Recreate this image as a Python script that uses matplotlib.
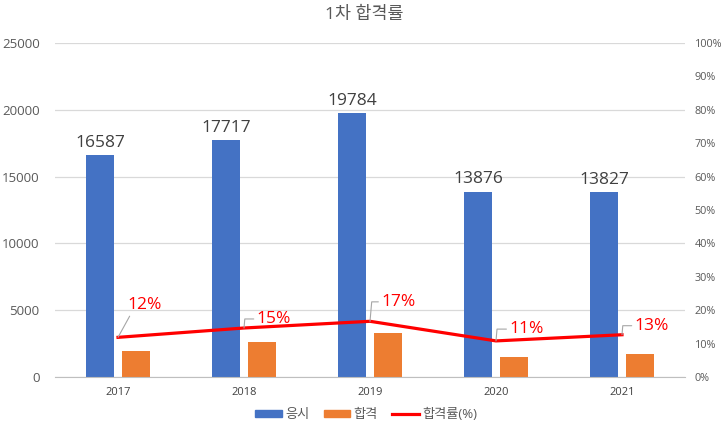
import matplotlib
matplotlib.use("Agg")
import matplotlib.pyplot as plt
from matplotlib.patches import Patch
from matplotlib.lines import Line2D
import numpy as np

plt.rcParams['font.family'] = ['Open Sans', 'Noto Sans CJK KR', 'DejaVu Sans']

years = ['2017', '2018', '2019', '2020', '2021']
applied = [16587, 17717, 19784, 13876, 13827]   # 응시
passed = [1970, 2600, 3300, 1500, 1750]         # 합격
left_ticks = [0, 5000, 10000, 15000, 20000, 25000]
right_ticks = [0, 10, 20, 30, 40, 50, 60, 70, 80, 90, 100]

BLUE = '#4472C4'
ORANGE = '#ED7D31'
GRAY = '#595959'

rate = [p / a * 100 for p, a in zip(passed, applied)]
x = np.arange(len(years))

fig = plt.figure(figsize=(7.25, 4.33), dpi=100)
ax = fig.add_axes([0.0759, 0.1293, 0.8689, 0.7714])
ax2 = ax.twinx()

w = 0.222
ax.bar(x - 0.143, applied, w, color=BLUE, zorder=2)
ax.bar(x + 0.143, passed, w, color=ORANGE, zorder=2)

for xi, v in zip(x, applied):
    ax.annotate(str(v), (xi - 0.143, v), xytext=(0, 3), textcoords='offset points',
                ha='center', va='bottom', fontsize=12.5, color='#404040')

ax.set_xlim(-0.5, len(years) - 0.5)
ax.set_ylim(0, 25000)
ax.set_yticks(left_ticks)
ax.set_xticks(x)
ax.set_xticklabels(years)
ax.grid(axis='y', color='#D9D9D9', linewidth=0.9, zorder=0)
ax.set_axisbelow(True)
ax.tick_params(axis='y', length=0, labelsize=9.5, labelcolor=GRAY, pad=11)
ax.tick_params(axis='x', length=0, labelsize=8, labelcolor='#404040', pad=7)
for s in ['top', 'right', 'left']:
    ax.spines[s].set_visible(False)
ax.spines['bottom'].set_color('#BFBFBF')

ax2.plot(x, rate, color='#FF0000', linewidth=2.3, zorder=3)
ax2.set_ylim(0, 100)
ax2.set_yticks(right_ticks)
ax2.set_yticklabels([f'{t}%' for t in right_ticks])
ax2.tick_params(axis='y', length=0, labelsize=7.8, labelcolor=GRAY, pad=7)
for s in ['top', 'right', 'left', 'bottom']:
    ax2.spines[s].set_visible(False)

# label offsets in points (text left edge, centre)
offsets = [(7, 23), (9, 6.5), (8, 14), (9.5, 8.5), (9, 6.5)]
for i, (xi, r) in enumerate(zip(x, rate)):
    if i == 0:
        conn = dict(arrowstyle='-', color='#A6A6A6', linewidth=0.8,
                    shrinkA=0, shrinkB=0, relpos=(0.1, 0))
    else:
        conn = dict(arrowstyle='-', color='#A6A6A6', linewidth=0.8,
                    connectionstyle='angle,angleA=0,angleB=85',
                    shrinkA=0, shrinkB=0, relpos=(0, 0.5))
    ax2.annotate(f'{round(r)}%', (xi, r), xytext=offsets[i], textcoords='offset points',
                 ha='left', va='center', fontsize=12.5, color='#FF0000',
                 arrowprops=conn, zorder=4)

fig.suptitle('1차 합격률', x=0.503, y=0.985, fontsize=12.5, color=GRAY)

handles = [Patch(color=BLUE), Patch(color=ORANGE), Line2D([], [], color='#FF0000', linewidth=2.3)]
fig.legend(handles, ['응시', '합격', '합격률(%)'], loc='lower center', ncol=3,
           bbox_to_anchor=(0.505, 0.0), frameon=False, fontsize=9.5,
           labelcolor=GRAY, handlelength=2.0, handleheight=0.45,
           handletextpad=0.25, columnspacing=1.1)

fig.savefig('out.png', dpi=100)
